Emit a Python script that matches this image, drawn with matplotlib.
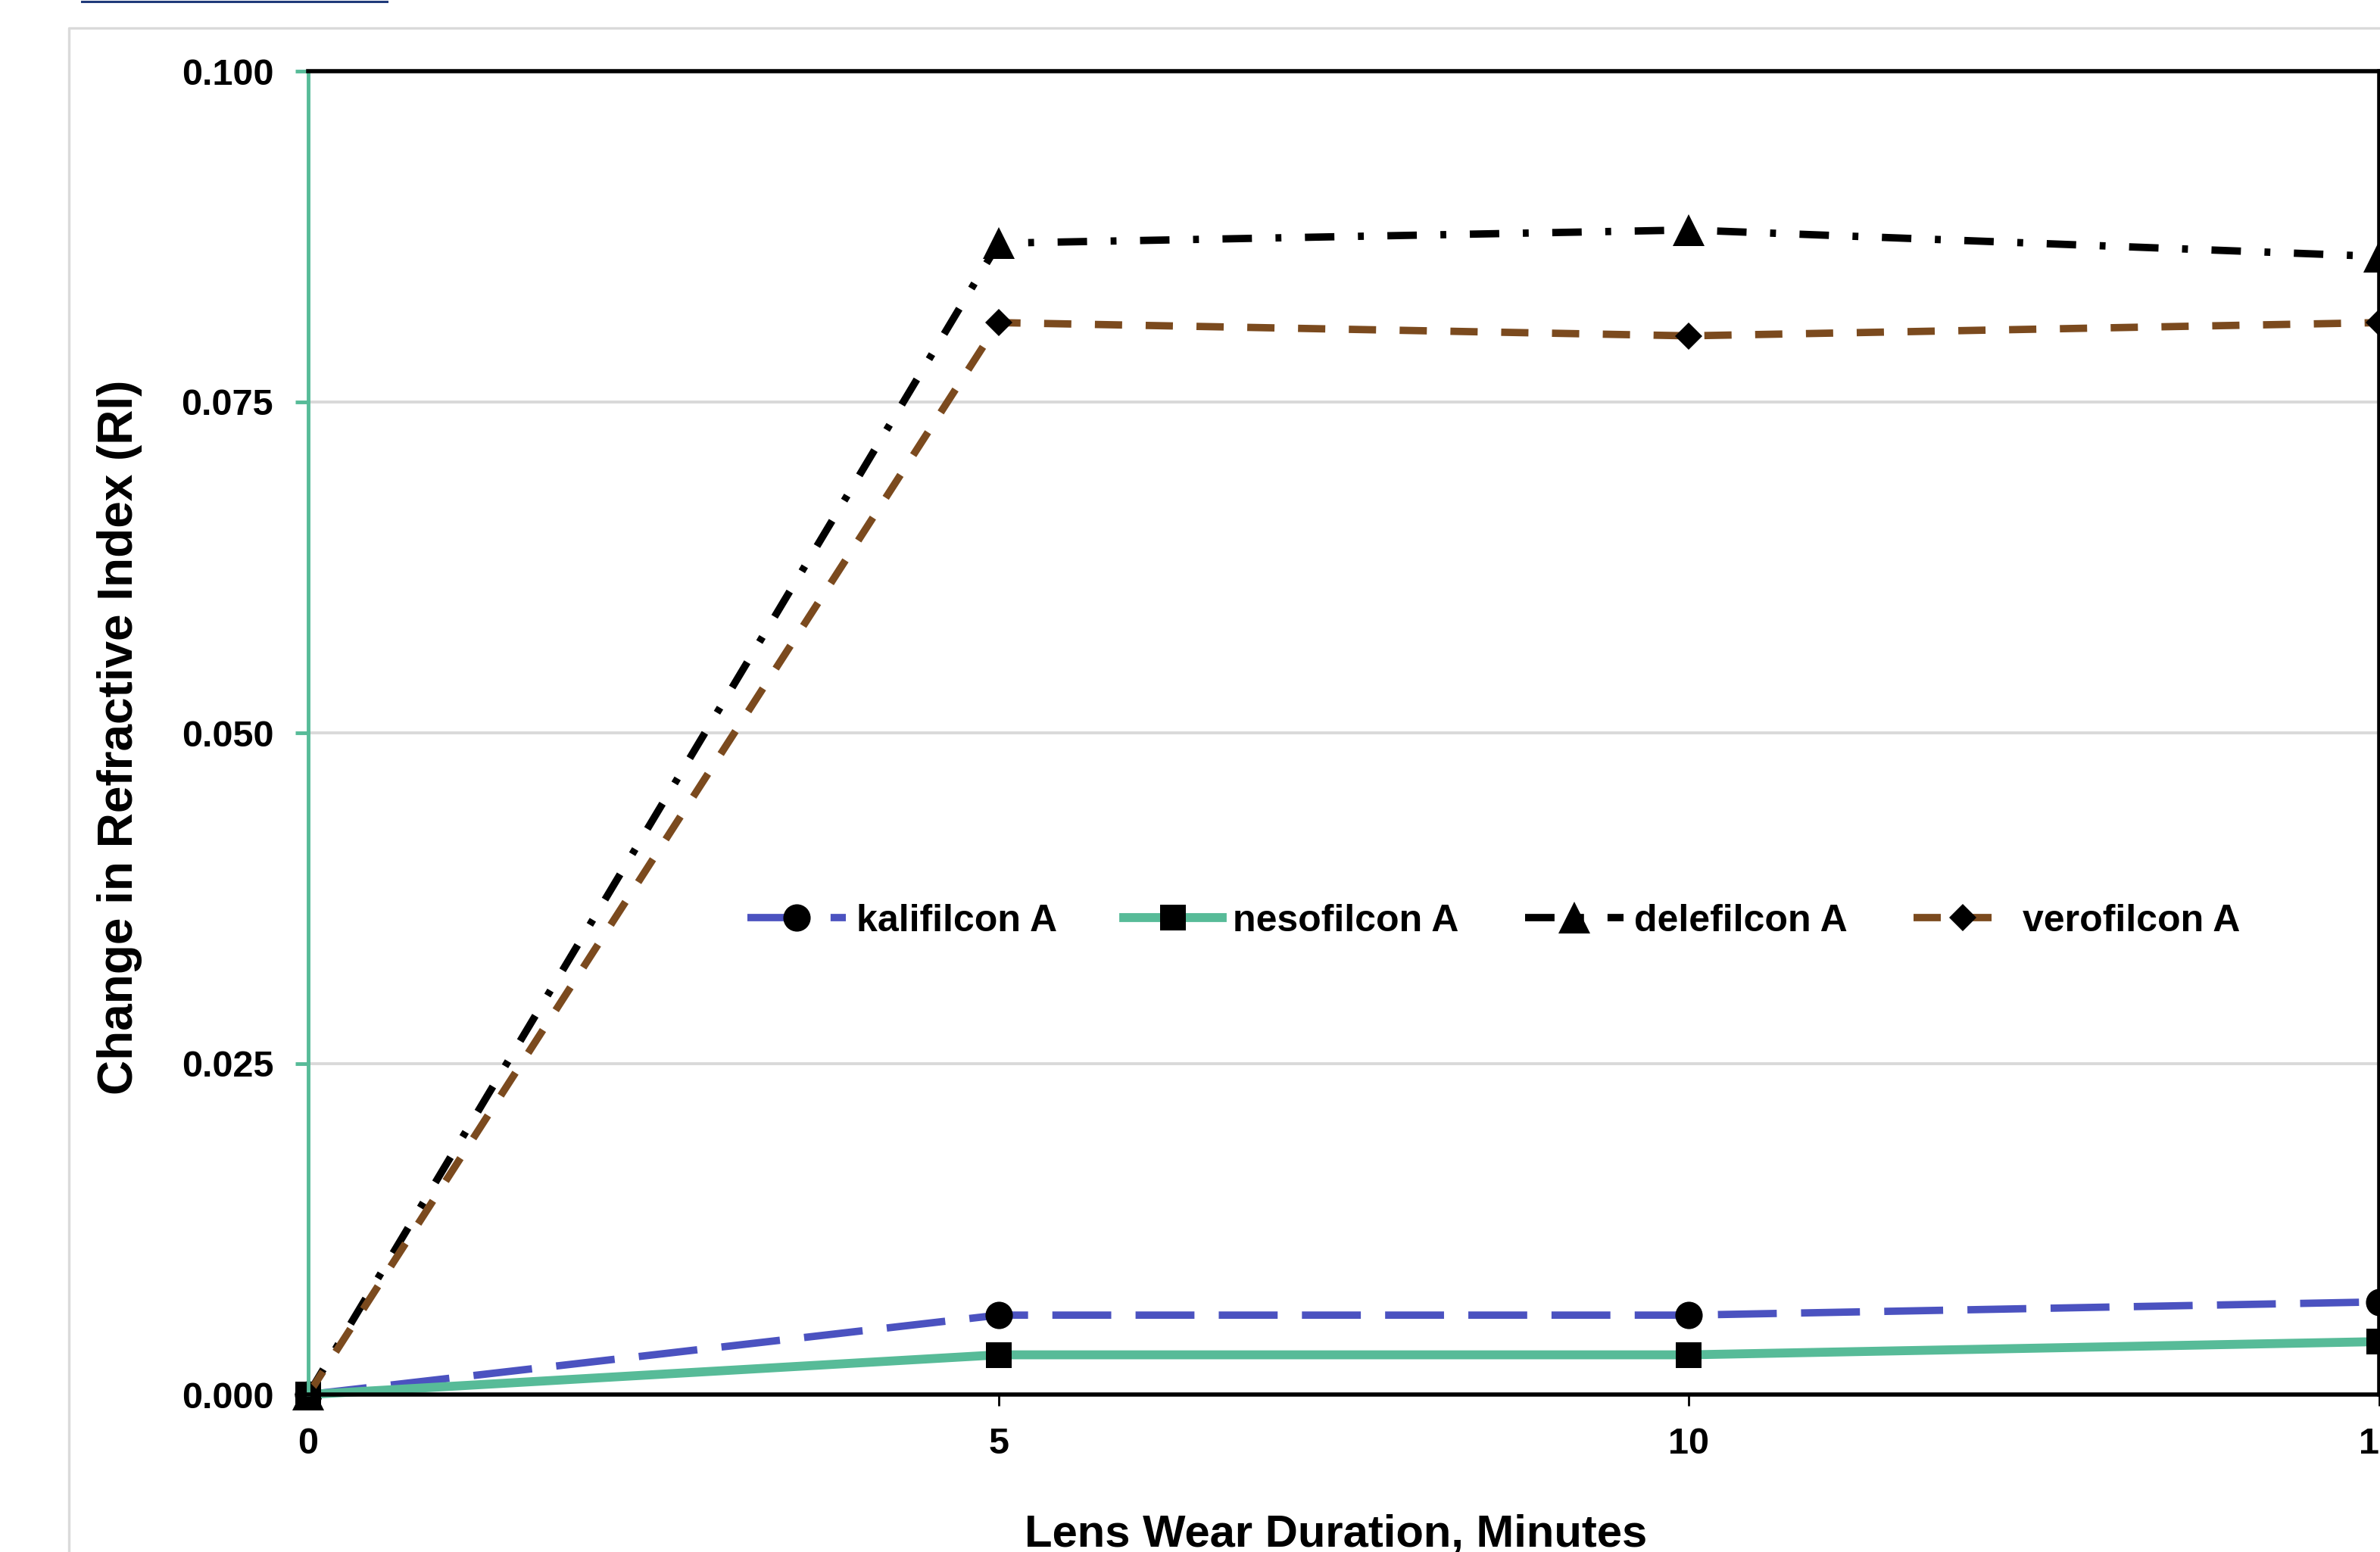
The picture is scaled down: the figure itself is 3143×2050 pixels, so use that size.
import matplotlib
matplotlib.use('Agg')
import matplotlib.pyplot as plt
from matplotlib.lines import Line2D
from matplotlib.ticker import FormatStrFormatter

# data
minutes = [0, 5, 10, 15]
kalifilcon = [0.000, 0.006, 0.006, 0.007]
nesofilcon = [0.000, 0.003, 0.003, 0.004]
delefilcon = [0.000, 0.087, 0.088, 0.086]
verofilcon = [0.000, 0.081, 0.080, 0.081]
y_ticks = [0.000, 0.025, 0.050, 0.075, 0.100]
x_ticks = [0, 5, 10, 15]

plt.rcParams['font.family'] = ['Liberation Sans', 'DejaVu Sans']
plt.rcParams['font.weight'] = 'bold'

W, H = 3143, 2050
fig = plt.figure(figsize=(W / 100, H / 100), dpi=100)
fig.patch.set_facecolor('white')

# page decoration around the chart (link underline + panel border)
fig.add_artist(Line2D([108 / W, 511 / W], [1 - 1.5 / H, 1 - 1.5 / H], color='#1f3a7a', lw=2.2))
fig.add_artist(Line2D([91 / W, 91 / W, 1.0], [0.0, 1 - 37 / H, 1 - 37 / H], color='#dadada', lw=2.4))

ax = fig.add_axes([407 / W, (H - 1842) / H, (3142 - 407) / W, (1842 - 94) / H])

teal = '#57bb98'
ax.plot(minutes, kalifilcon, color='#4b52c0', lw=7, ls=(0, (8, 3.3)),
        marker='o', ms=26, mfc='black', mec='black', mew=0, clip_on=False, label='kalifilcon A')
ax.plot(minutes, nesofilcon, color=teal, lw=8.5, ls='-',
        marker='s', ms=24, mfc='black', mec='black', mew=0, clip_on=False, label='nesofilcon A')
ax.plot(minutes, delefilcon, color='black', lw=7, ls=(0, (4, 3.2, 0.8, 3.2)),
        marker='^', ms=30, mfc='black', mec='black', mew=0, clip_on=False, label='delefilcon A')
ax.plot(minutes, verofilcon, color='#7b4a1e', lw=7, ls=(0, (3.7, 3.2)),
        marker='D', ms=18.5, mfc='black', mec='black', mew=0, clip_on=False, label='verofilcon A')

ax.set_xlim(0, 15)
ax.set_ylim(0, 0.1)
ax.set_xticks(x_ticks)
ax.set_yticks(y_ticks)
ax.yaxis.set_major_formatter(FormatStrFormatter('%.3f'))
ax.grid(axis='y', color='#d9d9d9', lw=2.8)
ax.set_axisbelow(True)

for side in ['top', 'bottom', 'right']:
    ax.spines[side].set_color('black')
    ax.spines[side].set_linewidth(4)
ax.spines['left'].set_color(teal)
ax.spines['left'].set_linewidth(3.5)

ax.tick_params(axis='y', direction='out', length=12, width=3.5, color=teal,
               pad=21, labelsize=35)
ax.tick_params(axis='x', direction='out', length=11, width=2, color='black',
               pad=20, labelsize=35)
for lab in ax.get_xticklabels() + ax.get_yticklabels():
    lab.set_fontweight('bold')

fig.text(158 / W, 1076 / H, 'Change in Refractive Index (RI)', rotation=90,
         ha='center', va='center', fontsize=46, fontweight='bold')
fig.text(1764 / W, 7 / H, 'Lens Wear Duration, Minutes', ha='center',
         va='baseline', fontsize=43, fontweight='bold')

ax.legend(loc='center', bbox_to_anchor=(0.5726, 0.3576), ncol=4, frameon=False,
          handlelength=2.6, handletextpad=0.28, columnspacing=1.75,
          borderpad=0, numpoints=1, prop={'weight': 'bold', 'size': 36})

fig.savefig('out.png', dpi=100)
plt.close(fig)
